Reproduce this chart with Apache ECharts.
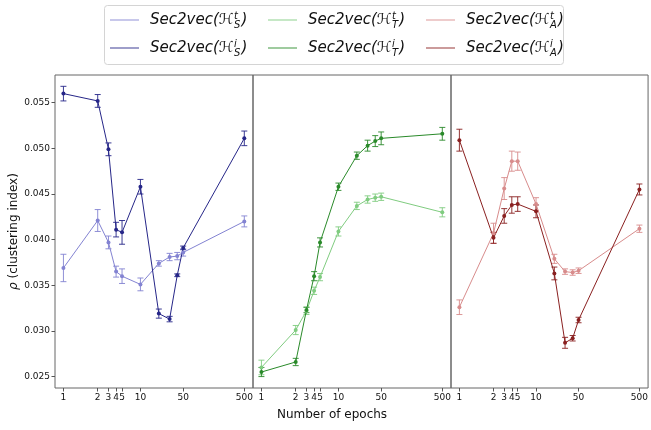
<!DOCTYPE html>
<html>
<head>
<meta charset="utf-8">
<script src="https://cdn.jsdelivr.net/npm/echarts@6/dist/echarts.min.js"></script>
<style>
html, body { margin: 0; padding: 0; background: #fff; }
#main { width: 651px; height: 430px; }
</style>
</head>
<body>
<div id="main"></div>
<script>
// epochs at which each model was evaluated
var epochs = [1, 2, 3, 4, 5, 10, 20, 30, 40, 50, 500];
var xTickEpochs = [1, 2, 3, 4, 5, 10, 50, 500];
var yTicks = [0.025, 0.030, 0.035, 0.040, 0.045, 0.050, 0.055];

// S (light = t, dark = i)
var sT    = [0.0369, 0.0421, 0.0397, 0.0365, 0.0360, 0.0351, 0.0374, 0.0381, 0.0382, 0.0386, 0.0420];
var sTErr = [0.0015, 0.0012, 0.0007, 0.0006, 0.0008, 0.0007, 0.0003, 0.0004, 0.0004, 0.0004, 0.0006];
var sI    = [0.0560, 0.0552, 0.0499, 0.0411, 0.0408, 0.0458, 0.0319, 0.0313, 0.0361, 0.0391, 0.0511];
var sIErr = [0.0008, 0.0007, 0.0007, 0.0008, 0.0013, 0.0008, 0.0005, 0.0003, 0.00015, 0.0002, 0.0008];
// T
var tT    = [0.0260, 0.0301, 0.0322, 0.0344, 0.0359, 0.0409, 0.0437, 0.0444, 0.0446, 0.0447, 0.0430];
var tTErr = [0.0008, 0.0005, 0.0004, 0.0004, 0.0004, 0.0005, 0.0004, 0.0004, 0.0004, 0.0004, 0.0005];
var tI    = [0.0255, 0.0266, 0.0323, 0.0360, 0.0397, 0.0458, 0.0492, 0.0503, 0.0508, 0.0511, 0.0516];
var tIErr = [0.0005, 0.0004, 0.0003, 0.0005, 0.0005, 0.0004, 0.0004, 0.0006, 0.0006, 0.0007, 0.0007];
// A
var aT    = [0.0326, 0.0407, 0.0456, 0.0486, 0.0486, 0.0439, 0.0379, 0.0365, 0.0364, 0.0366, 0.0412];
var aTErr = [0.0008, 0.0011, 0.0012, 0.0011, 0.0010, 0.0007, 0.0005, 0.0003, 0.0003, 0.0003, 0.0004];
var aI    = [0.0509, 0.0402, 0.0426, 0.0438, 0.0439, 0.0431, 0.0363, 0.0287, 0.0292, 0.0312, 0.0455];
var aIErr = [0.0012, 0.0006, 0.0008, 0.0009, 0.0008, 0.0007, 0.0007, 0.0006, 0.0003, 0.0003, 0.0006];

var colors = {
  sT: '#8383d2', sI: '#262688',
  tT: '#80cc80', tI: '#2a8a2a',
  aT: '#d88c8c', aI: '#8a2020'
};

// the original log axis puts epoch 1 a bit left of its true place
function epochPos(e) {
  return Math.log10(e === 1 ? 0.55 : e);
}

var FONT = '"DejaVu Sans", Verdana, sans-serif';
var gridLefts = [55, 253, 451];

function lineSeries(name, vals, color, idx) {
  return {
    type: 'line', name: name, xAxisIndex: idx, yAxisIndex: idx,
    data: epochs.map(function (e, i) { return [epochPos(e), vals[i]]; }),
    symbol: 'circle', symbolSize: 4,
    itemStyle: { color: color },
    lineStyle: { color: color, width: 1 },
    silent: true, z: 3
  };
}

function errSeries(name, vals, errs, color, idx) {
  return {
    type: 'custom', name: name + '_err', xAxisIndex: idx, yAxisIndex: idx,
    data: epochs.map(function (e, i) { return [epochPos(e), vals[i] - errs[i], vals[i] + errs[i]]; }),
    encode: { x: 0, y: [1, 2] },
    renderItem: function (params, api) {
      var lo = api.coord([api.value(0), api.value(1)]);
      var hi = api.coord([api.value(0), api.value(2)]);
      var w = 3;
      var st = { stroke: color, lineWidth: 1, fill: null, opacity: 0.9 };
      return {
        type: 'group',
        children: [
          { type: 'line', shape: { x1: lo[0], y1: lo[1], x2: hi[0], y2: hi[1] }, style: st },
          { type: 'line', shape: { x1: lo[0] - w, y1: lo[1], x2: lo[0] + w, y2: lo[1] }, style: st },
          { type: 'line', shape: { x1: hi[0] - w, y1: hi[1], x2: hi[0] + w, y2: hi[1] }, style: st }
        ]
      };
    },
    silent: true, z: 2
  };
}

var grids = [], xAxes = [], yAxes = [];
for (var g = 0; g < 3; g++) {
  grids.push({
    left: gridLefts[g], top: 75, width: 198, height: 313,
    show: true, borderColor: '#666', borderWidth: 1, backgroundColor: 'transparent'
  });
  xAxes.push({
    type: 'value', gridIndex: g, position: 'bottom',
    min: -0.3975, max: 2.8413,
    axisLine: { show: false, onZero: false },
    splitLine: { show: false },
    axisTick: {
      show: true, length: 3.5, lineStyle: { color: '#555' },
      customValues: xTickEpochs.map(epochPos)
    },
    axisLabel: {
      show: true, margin: 5, fontFamily: FONT, fontSize: 9, color: '#111',
      customValues: xTickEpochs.map(epochPos),
      formatter: function (v) {
        for (var k = 0; k < xTickEpochs.length; k++) {
          if (Math.abs(epochPos(xTickEpochs[k]) - v) < 1e-6) return String(xTickEpochs[k]);
        }
        return '';
      }
    }
  });
  yAxes.push({
    type: 'value', gridIndex: g, position: 'left',
    min: 0.02375, max: 0.05804,
    axisLine: { show: false, onZero: false },
    splitLine: { show: false },
    axisTick: {
      show: g === 0, length: 3.5, lineStyle: { color: '#555' },
      customValues: yTicks
    },
    axisLabel: {
      show: g === 0, margin: 5, fontFamily: FONT, fontSize: 9, color: '#111',
      customValues: yTicks,
      formatter: function (v) { return v.toFixed(3); }
    },
    name: g === 0 ? '{i|ρ} (clustering index)' : '',
    nameLocation: 'middle', nameRotate: 90, nameGap: 31,
    nameTextStyle: {
      fontFamily: FONT, fontSize: 12, color: '#111',
      rich: { i: { fontFamily: FONT, fontSize: 12, fontStyle: 'italic', color: '#111' } }
    }
  });
}

var series = [
  errSeries('S_t', sT, sTErr, colors.sT, 0), lineSeries('S_t', sT, colors.sT, 0),
  errSeries('S_i', sI, sIErr, colors.sI, 0), lineSeries('S_i', sI, colors.sI, 0),
  errSeries('T_t', tT, tTErr, colors.tT, 1), lineSeries('T_t', tT, colors.tT, 1),
  errSeries('T_i', tI, tIErr, colors.tI, 1), lineSeries('T_i', tI, colors.tI, 1),
  errSeries('A_t', aT, aTErr, colors.aT, 2), lineSeries('A_t', aT, colors.aT, 2),
  errSeries('A_i', aI, aIErr, colors.aI, 2), lineSeries('A_i', aI, colors.aI, 2)
];

// legend drawn by hand so the math labels get a stacked sup/sub
var legendItems = [
  { sub: 'S', sup: 't', color: colors.sT }, { sub: 'S', sup: 'i', color: colors.sI },
  { sub: 'T', sup: 't', color: colors.tT }, { sub: 'T', sup: 'i', color: colors.tI },
  { sub: 'A', sup: 't', color: colors.aT }, { sub: 'A', sup: 'i', color: colors.aI }
];
var ctx = document.createElement('canvas').getContext('2d');
function textW(t, font) { ctx.font = font; return ctx.measureText(t).width; }

var mainFont = 'italic 15px ' + FONT;
var calFont = '15px ' + FONT;
var smallFont = 'italic 10px ' + FONT;

var graphics = [{
  type: 'rect', left: 104, top: 5, z: 10,
  shape: { width: 459, height: 59, r: 3 },
  style: { fill: '#fff', stroke: '#d4d4d4', lineWidth: 1 }
}];
legendItems.forEach(function (it, k) {
  var col = Math.floor(k / 2), row = k % 2;
  var lx = 110 + col * 158, ty = 20 + row * 28;
  var x0 = lx + 40;
  graphics.push({
    type: 'line', z: 11,
    shape: { x1: lx, y1: ty, x2: lx + 29, y2: ty },
    style: { stroke: it.color, lineWidth: 1.5, opacity: 0.6 }
  });
  var w1 = textW('Sec2vec(', mainFont);
  var w2 = textW('ℋ', calFont);
  var w3 = Math.max(textW(it.sup, smallFont), textW(it.sub, smallFont));
  graphics.push({ type: 'text', z: 11, x: x0, y: ty,
    style: { text: 'Sec2vec(', font: mainFont, fill: '#111', verticalAlign: 'middle' } });
  graphics.push({ type: 'text', z: 11, x: x0 + w1, y: ty,
    style: { text: 'ℋ', font: calFont, fill: '#111', verticalAlign: 'middle' } });
  graphics.push({ type: 'text', z: 11, x: x0 + w1 + w2 + 0.5, y: ty - 4,
    style: { text: it.sup, font: smallFont, fill: '#111', verticalAlign: 'middle' } });
  graphics.push({ type: 'text', z: 11, x: x0 + w1 + w2 + 0.5, y: ty + 5,
    style: { text: it.sub, font: smallFont, fill: '#111', verticalAlign: 'middle' } });
  graphics.push({ type: 'text', z: 11, x: x0 + w1 + w2 + w3 + 1.5, y: ty,
    style: { text: ')', font: mainFont, fill: '#111', verticalAlign: 'middle' } });
});
graphics.push({
  type: 'text', x: 332, y: 415, z: 11,
  style: { text: 'Number of epochs', font: '12px ' + FONT, fill: '#111', align: 'center', verticalAlign: 'middle' }
});

var myChart = echarts.init(document.getElementById('main'));
myChart.setOption({
  backgroundColor: '#fff',
  animation: false,
  grid: grids,
  xAxis: xAxes,
  yAxis: yAxes,
  series: series,
  graphic: graphics
});
</script>
</body>
</html>
